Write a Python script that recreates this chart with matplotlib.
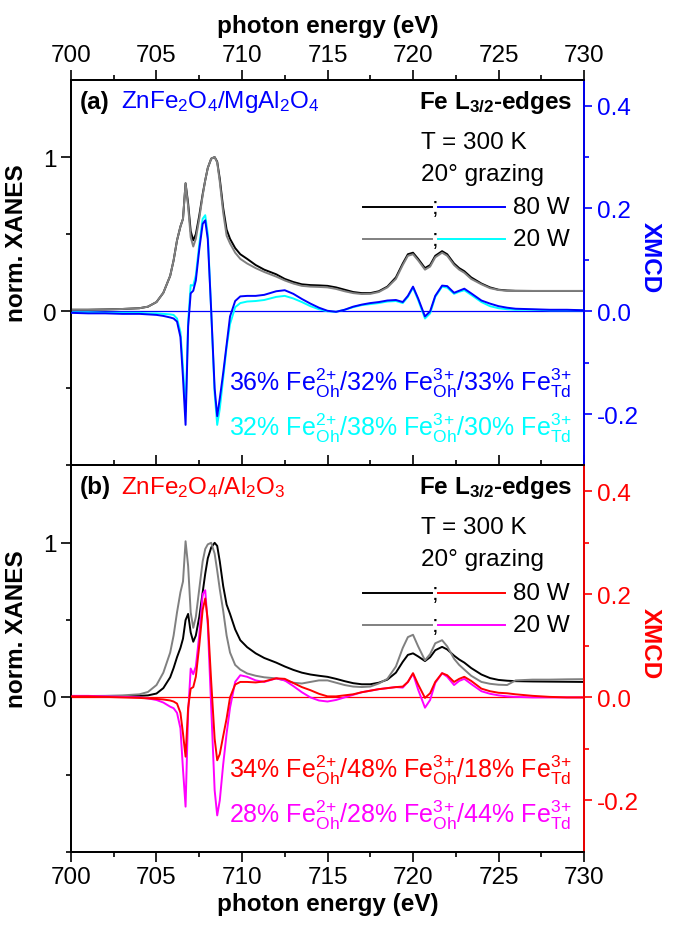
import matplotlib
matplotlib.use("Agg")
import matplotlib.pyplot as plt
from matplotlib.ticker import MultipleLocator, FixedLocator, FormatStrFormatter

plt.rcParams['font.family'] = ['Liberation Sans', 'DejaVu Sans']
plt.rcParams['mathtext.fontset'] = 'custom'
plt.rcParams['mathtext.rm'] = 'Liberation Sans'
plt.rcParams['mathtext.it'] = 'Liberation Sans:italic'
plt.rcParams['mathtext.bf'] = 'Liberation Sans:bold'
plt.rcParams['axes.unicode_minus'] = False

# ---------------- data ----------------
energy = [700, 701, 702, 703, 704, 704.5, 705, 705.4, 705.8, 706.0,
          706.2, 706.4, 706.55, 706.7, 706.85, 707.0, 707.15, 707.3, 707.5, 707.7,
          707.85, 708.0, 708.2, 708.4, 708.55, 708.7, 708.9, 709.1, 709.3, 709.6,
          709.9, 710.3, 710.8, 711.3, 712.0, 712.5, 713.0, 713.5, 714.0, 714.5,
          715.0, 715.5, 716.0, 716.5, 717.0, 717.5, 718.0, 718.5, 719.0, 719.4,
          719.7, 720.0, 720.3, 720.7, 721.0, 721.3, 721.7, 722.0, 722.4, 722.7,
          723.0, 723.4, 724.0, 724.5, 725.0, 725.5, 726, 727, 728, 729,
          730]

# panel (a) ZnFe2O4/MgAl2O4
xanes_a_80W = [0.01, 0.01, 0.012, 0.015, 0.02, 0.03, 0.06, 0.12, 0.23, 0.33,
               0.46, 0.55, 0.60, 0.83, 0.70, 0.52, 0.46, 0.50, 0.62, 0.76,
               0.85, 0.93, 0.99, 1.0, 0.97, 0.86, 0.67, 0.53, 0.47, 0.41,
               0.37, 0.34, 0.30, 0.27, 0.24, 0.21, 0.19, 0.175, 0.17, 0.168,
               0.165, 0.155, 0.14, 0.125, 0.118, 0.118, 0.13, 0.16, 0.22, 0.31,
               0.37, 0.38, 0.34, 0.28, 0.30, 0.36, 0.39, 0.37, 0.31, 0.28,
               0.26, 0.22, 0.18, 0.155, 0.14, 0.135, 0.133, 0.132, 0.132, 0.132,
               0.132]
xanes_a_20W = [0.01, 0.01, 0.012, 0.015, 0.02, 0.03, 0.06, 0.12, 0.23, 0.33,
               0.46, 0.55, 0.60, 0.83, 0.68, 0.48, 0.42, 0.47, 0.60, 0.75,
               0.85, 0.93, 0.99, 1.0, 0.965, 0.84, 0.64, 0.49, 0.44, 0.38,
               0.34, 0.31, 0.28, 0.255, 0.225, 0.20, 0.18, 0.165, 0.16, 0.158,
               0.155, 0.145, 0.13, 0.118, 0.112, 0.113, 0.125, 0.155, 0.21, 0.30,
               0.36, 0.37, 0.33, 0.27, 0.29, 0.35, 0.38, 0.36, 0.30, 0.27,
               0.25, 0.21, 0.175, 0.15, 0.138, 0.133, 0.132, 0.132, 0.132, 0.132,
               0.132]
xmcd_a_80W = [-0.003, -0.004, -0.004, -0.005, -0.005, -0.006, -0.007, -0.009, -0.012, -0.014,
              -0.02, -0.05, -0.13, -0.221, -0.03, 0.035, 0.04, 0.06, 0.12, 0.17,
              0.177, 0.14, 0.0, -0.15, -0.204, -0.17, -0.12, -0.065, -0.01, 0.02,
              0.029, 0.03, 0.03, 0.032, 0.039, 0.041, 0.034, 0.024, 0.015, 0.007,
              0.001, -0.001, 0.003, 0.009, 0.013, 0.016, 0.018, 0.021, 0.022, 0.018,
              0.03, 0.048, 0.025, -0.01, 0.0, 0.03, 0.05, 0.049, 0.036, 0.04,
              0.044, 0.035, 0.021, 0.015, 0.01, 0.007, 0.005, 0.004, 0.003, 0.003,
              0.002]
xmcd_a_20W = [-0.002, -0.002, -0.003, -0.003, -0.003, -0.004, -0.004, -0.005, -0.006, -0.007,
              -0.014, -0.04, -0.11, -0.195, -0.02, 0.051, 0.05, 0.07, 0.13, 0.18,
              0.187, 0.15, 0.0, -0.16, -0.221, -0.19, -0.13, -0.07, -0.025, 0.008,
              0.016, 0.019, 0.02, 0.022, 0.028, 0.03, 0.025, 0.018, 0.01, 0.004,
              0.0, -0.001, 0.003, 0.008, 0.012, 0.014, 0.016, 0.019, 0.02, 0.016,
              0.028, 0.046, 0.022, -0.014, -0.004, 0.028, 0.048, 0.046, 0.034, 0.038,
              0.041, 0.032, 0.018, 0.01, 0.006, 0.004, 0.003, 0.003, 0.002, 0.002,
              0.002]

# panel (b) ZnFe2O4/Al2O3
xanes_b_80W = [0.005, 0.005, 0.006, 0.008, 0.01, 0.013, 0.025, 0.06, 0.13, 0.19,
               0.26, 0.32, 0.38, 0.50, 0.54, 0.42, 0.36, 0.40, 0.52, 0.68,
               0.80, 0.90, 0.97, 1.0, 0.98, 0.88, 0.72, 0.60, 0.54, 0.44,
               0.37, 0.325, 0.285, 0.255, 0.225, 0.20, 0.178, 0.16, 0.148, 0.14,
               0.133, 0.12, 0.105, 0.092, 0.085, 0.085, 0.095, 0.115, 0.16, 0.23,
               0.275, 0.285, 0.265, 0.235, 0.26, 0.305, 0.327, 0.31, 0.27, 0.245,
               0.225, 0.19, 0.148, 0.125, 0.113, 0.108, 0.105, 0.103, 0.102, 0.101,
               0.1]
xanes_b_20W = [0.008, 0.009, 0.01, 0.013, 0.02, 0.035, 0.08, 0.16, 0.29, 0.40,
               0.55, 0.68, 0.75, 1.01, 0.85, 0.55, 0.45, 0.52, 0.70, 0.88,
               0.96, 0.99, 1.0, 0.93, 0.82, 0.70, 0.56, 0.40, 0.29, 0.21,
               0.18, 0.155, 0.14, 0.13, 0.123, 0.11, 0.095, 0.09, 0.10, 0.11,
               0.11, 0.095, 0.08, 0.07, 0.067, 0.07, 0.09, 0.12, 0.20, 0.32,
               0.39, 0.405, 0.33, 0.24, 0.28, 0.35, 0.37, 0.33, 0.25, 0.21,
               0.18, 0.14, 0.10, 0.088, 0.082, 0.08, 0.11, 0.115, 0.115, 0.117,
               0.118]
xmcd_b_80W = [0.002, 0.002, 0.001, 0.0, -0.001, -0.002, -0.003, -0.004, -0.006, -0.008,
              -0.012, -0.03, -0.07, -0.115, -0.02, 0.017, 0.02, 0.04, 0.10, 0.17,
              0.192, 0.15, 0.03, -0.08, -0.122, -0.11, -0.075, -0.041, 0.0, 0.025,
              0.03, 0.03, 0.029, 0.031, 0.037, 0.036, 0.028, 0.02, 0.014, 0.007,
              0.002, 0.002, 0.004, 0.006, 0.01, 0.013, 0.016, 0.018, 0.02, 0.021,
              0.03, 0.047, 0.025, -0.001, 0.008, 0.03, 0.047, 0.043, 0.03, 0.036,
              0.04, 0.032, 0.017, 0.012, 0.009, 0.008, 0.006, 0.003, 0.001, 0.0,
              0.0]
xmcd_b_20W = [0.003, 0.003, 0.002, 0.001, 0.0, -0.002, -0.005, -0.01, -0.018, -0.021,
              -0.03, -0.06, -0.14, -0.212, -0.03, 0.056, 0.045, 0.06, 0.12, 0.2,
              0.208, 0.14, -0.02, -0.18, -0.229, -0.2, -0.13, -0.07, -0.02, 0.03,
              0.043, 0.04, 0.033, 0.03, 0.037, 0.033, 0.022, 0.01, 0.0, -0.006,
              -0.008, -0.005, 0.0, 0.005, 0.01, 0.013, 0.016, 0.018, 0.02, 0.019,
              0.03, 0.046, 0.015, -0.02, -0.005, 0.028, 0.047, 0.04, 0.024, 0.032,
              0.036, 0.026, 0.012, 0.007, 0.004, 0.002, 0.001, 0.0, 0.0, 0.0,
              0.0]

x_ticks = [700, 705, 710, 715, 720, 725, 730]
xmcd_ticks = [-0.2, 0.0, 0.2, 0.4]
xanes_ticks = [0, 1]


def frac(a, b, c):
    return (a + r'% Fe$_{\mathrm{Oh}}^{\mathrm{2\!+}}$/' + b +
            r'% Fe$_{\mathrm{Oh}}^{\mathrm{3\!+}}$/' + c + r'% Fe$_{\mathrm{Td}}^{\mathrm{3\!+}}$')


panel_a = dict(tag='(a)', sample=r'ZnFe$_2$O$_4$/MgAl$_2$O$_4$', c80='#0000FF', c20='#00FFFF',
               x80=xanes_a_80W, x20=xanes_a_20W, m80=xmcd_a_80W, m20=xmcd_a_20W,
               f80=frac('36', '32', '33'), f20=frac('32', '38', '30'))
panel_b = dict(tag='(b)', sample=r'ZnFe$_2$O$_4$/Al$_2$O$_3$', c80='#FF0000', c20='#FF00FF',
               x80=xanes_b_80W, x20=xanes_b_20W, m80=xmcd_b_80W, m20=xmcd_b_20W,
               f80=frac('34', '48', '18'), f20=frac('28', '28', '44'))

FS = 17.5
fig = plt.figure(figsize=(6.78, 9.29), dpi=100)
axA = fig.add_axes([0.1047, 0.49785, 0.7567, 0.41496])
axB = fig.add_axes([0.1047, 0.08181, 0.7567, 0.41604])


def draw(ax, p, top):
    ax2 = ax.twinx()
    ax.plot(energy, p['x80'], color='black', lw=1.4, zorder=3)
    ax.plot(energy, p['x20'], color='#808080', lw=1.4, zorder=3)
    ax2.axhline(0, color=p['c80'], lw=0.9, zorder=1)
    ax2.plot(energy, p['m20'], color=p['c20'], lw=1.4, zorder=2)
    ax2.plot(energy, p['m80'], color=p['c80'], lw=1.4, zorder=3)

    ax.set_xlim(700, 730)
    ax.set_ylim(-1.0, 1.5)
    ax2.set_ylim(-0.3, 0.45)

    ax.yaxis.set_major_locator(FixedLocator(xanes_ticks))
    ax.yaxis.set_minor_locator(FixedLocator([-1.0, -0.5, 0.5]))
    ax.xaxis.set_major_locator(FixedLocator(x_ticks))
    ax.xaxis.set_minor_locator(MultipleLocator(2.5))
    ax2.yaxis.set_major_locator(FixedLocator(xmcd_ticks))
    ax2.yaxis.set_minor_locator(FixedLocator([-0.1, 0.1, 0.3]))
    ax2.yaxis.set_major_formatter(FormatStrFormatter('%.1f'))

    ax.tick_params(axis='y', which='major', direction='out', length=7, width=1.2,
                   labelsize=FS, pad=3)
    ax.tick_params(axis='y', which='minor', direction='out', length=3.6, width=1.2)
    ax2.tick_params(axis='y', which='major', direction='out', length=6, width=1.2,
                    labelsize=FS, colors=p['c80'], pad=3)
    ax2.tick_params(axis='y', which='minor', direction='out', length=3.6, width=1.2,
                    colors=p['c80'])
    for s in ax.spines.values():
        s.set_linewidth(1.3)
    for s in ax2.spines.values():
        s.set_linewidth(1.3)
    ax2.spines['right'].set_color(p['c80'])

    if top:
        ax.tick_params(axis='x', which='both', top=True, bottom=False,
                       labeltop=True, labelbottom=False, direction='out', width=1.2)
        ax.tick_params(axis='x', which='major', length=7, labelsize=FS, pad=3)
        ax.tick_params(axis='x', which='minor', length=3.6)
        ax.xaxis.set_label_position('top')
        ax.set_xlabel('photon energy (eV)', fontsize=FS, fontweight='bold', labelpad=9)
    else:
        ax.tick_params(axis='x', which='both', top=True, bottom=True,
                       labeltop=False, labelbottom=True, direction='out', width=1.2)
        ax.tick_params(axis='x', which='major', length=7, labelsize=FS, pad=3)
        ax.tick_params(axis='x', which='minor', length=3.6)
        ax.set_xlabel('photon energy (eV)', fontsize=FS, fontweight='bold', labelpad=3)
    ax.set_ylabel('norm. XANES', fontsize=FS, fontweight='bold')
    ax.yaxis.set_label_coords(-0.084, 0.58)
    ax2.set_ylabel('XMCD', fontsize=FS, fontweight='bold', color=p['c80'],
                   rotation=270, va='center')
    ax2.yaxis.set_label_coords(1.13, 0.542)

    # annotations
    tr = ax.transAxes
    ax.text(0.018, 0.945, p['tag'], transform=tr, fontsize=FS, fontweight='bold',
            va='center', ha='left')
    ax.text(0.097, 0.945, p['sample'], transform=tr, fontsize=FS, color=p['c80'],
            va='center', ha='left')
    ax.text(0.977, 0.945, r'Fe L$_{\mathbf{3/2}}$-edges', transform=tr, fontsize=FS,
            fontweight='bold', va='center', ha='right')
    ax.text(0.682, 0.84, 'T = 300 K', transform=tr, fontsize=FS, va='center', ha='left')
    ax.text(0.682, 0.757, '20° grazing', transform=tr, fontsize=FS, va='center', ha='left')
    for yy, lab, col, kcol in [(0.67, '80 W', p['c80'], 'black'),
                               (0.588, '20 W', p['c20'], '#808080')]:
        ax.plot([0.569, 0.704], [yy, yy], color=kcol, lw=1.4, transform=tr, clip_on=False)
        ax.plot([0.715, 0.846], [yy, yy], color=col, lw=1.4, transform=tr, clip_on=False)
        ax.text(0.7095, yy, ';', transform=tr, fontsize=FS, va='center', ha='center')
        ax.text(0.861, yy, lab, transform=tr, fontsize=FS, va='center', ha='left')
    ax.text(0.977, 0.215, p['f80'], transform=tr, fontsize=18, color=p['c80'],
            va='center', ha='right')
    ax.text(0.977, 0.098, p['f20'], transform=tr, fontsize=18, color=p['c20'],
            va='center', ha='right')
    return ax2


draw(axA, panel_a, True)
draw(axB, panel_b, False)

fig.savefig('out.png', dpi=100)
